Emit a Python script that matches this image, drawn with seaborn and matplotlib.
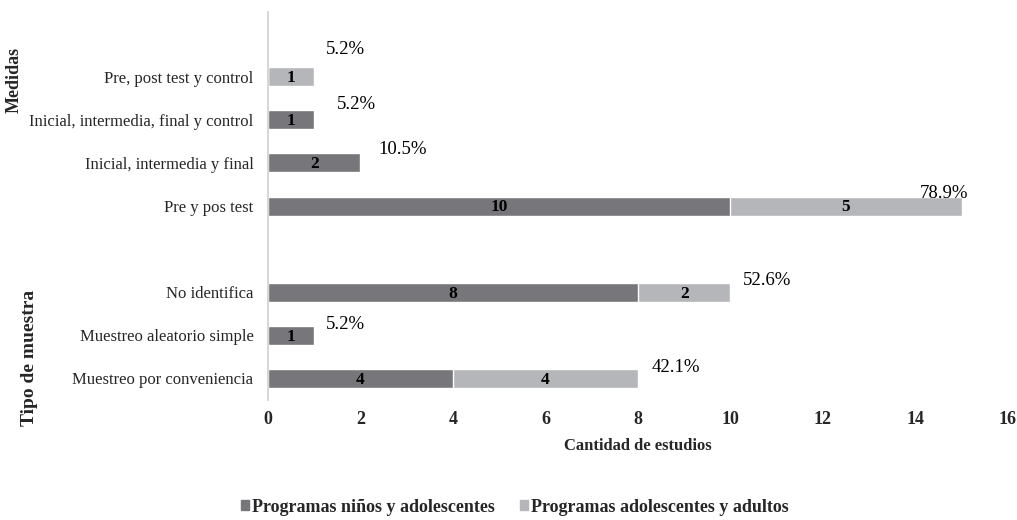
import matplotlib
matplotlib.use("Agg")
import matplotlib.pyplot as plt
import seaborn as sns
import pandas as pd
from matplotlib.patches import Patch

categorias = ["Pre, post test y control", "Inicial, intermedia, final y control",
              "Inicial, intermedia y final", "Pre y pos test", " ",
              "No identifica", "Muestreo aleatorio simple", "Muestreo por conveniencia"]
ninos = [0, 1, 2, 10, 0, 8, 1, 4]
adultos = [1, 0, 0, 5, 0, 2, 0, 4]
porcentajes = ["5.2%", "5.2%", "10.5%", "78.9%", "", "52.6%", "5.2%", "42.1%"]
series = ["Programas niños y adolescentes", "Programas adolescentes y adultos"]
xticks = [0, 2, 4, 6, 8, 10, 12, 14, 16]

# posición de las etiquetas de porcentaje respecto al final de la barra
off_x = [0.26, 0.5, 0.39, -0.91, 0, 0.26, 0.26, 0.30]
off_y = [-0.63, -0.35, -0.30, -0.30, 0, -0.28, -0.26, -0.26]

oscuro = "#77777b"
claro = "#b5b6b9"

df = pd.DataFrame({"cat": categorias, "ninos": ninos, "adultos": adultos})
df["total"] = df["ninos"] + df["adultos"]

sns.set_style("white")
plt.rcParams["font.family"] = ["Liberation Serif", "DejaVu Serif"]

fig = plt.figure(figsize=(10.17, 5.2), dpi=100)
ax = fig.add_axes([0.2635, 0.2308, 0.7275, 0.746])

sns.barplot(data=df, y="cat", x="total", order=categorias, color=claro,
            orient="h", width=0.44, saturation=1, ax=ax)
sns.barplot(data=df, y="cat", x="ninos", order=categorias, color=oscuro,
            orient="h", width=0.44, saturation=1, ax=ax)

for i, row in df.iterrows():
    if row["ninos"] > 0:
        ax.text(row["ninos"] / 2, i + 0.03, str(row["ninos"]), ha="center", va="center",
                fontsize=12.5, fontweight="bold", color="black")
    if row["adultos"] > 0:
        ax.text(row["ninos"] + row["adultos"] / 2, i + 0.03, str(row["adultos"]), ha="center",
                va="center", fontsize=12.5, fontweight="bold", color="black")
    if porcentajes[i]:
        ax.text(row["total"] + off_x[i], i + off_y[i], porcentajes[i], ha="left",
                va="center", fontsize=13.5, color="black")

ax.set_xlim(0, 16)
ax.set_ylim(7.5, -1.5)
ax.set_xticks(xticks)
ax.set_xticklabels([str(t) for t in xticks], fontweight="bold", fontsize=13)
ax.tick_params(axis="y", labelsize=12, length=0, pad=10.5)
ax.tick_params(axis="x", length=0, pad=8)
ax.set_ylabel("")
ax.set_xlabel("Cantidad de estudios", fontweight="bold", fontsize=12, labelpad=7)
for s in ["top", "right", "bottom"]:
    ax.spines[s].set_visible(False)
ax.spines["left"].set_color("#d0d0d0")
ax.spines["left"].set_linewidth(1.2)

fig.text(0.014, 0.846, "Medidas", rotation=90, ha="center", va="center",
         fontsize=13, fontweight="bold")
fig.text(0.029, 0.312, "Tipo de muestra", rotation=90, ha="center", va="center",
         fontsize=14, fontweight="bold")

handles = [Patch(color=oscuro), Patch(color=claro)]
fig.legend(handles, series, loc="center", bbox_to_anchor=(0.506, 0.025), ncol=2,
           frameon=False, prop={"weight": "bold", "size": 13}, handlelength=0.45,
           handleheight=0.45, handletextpad=0.15, columnspacing=1.4)

fig.savefig("out.png", dpi=100)
